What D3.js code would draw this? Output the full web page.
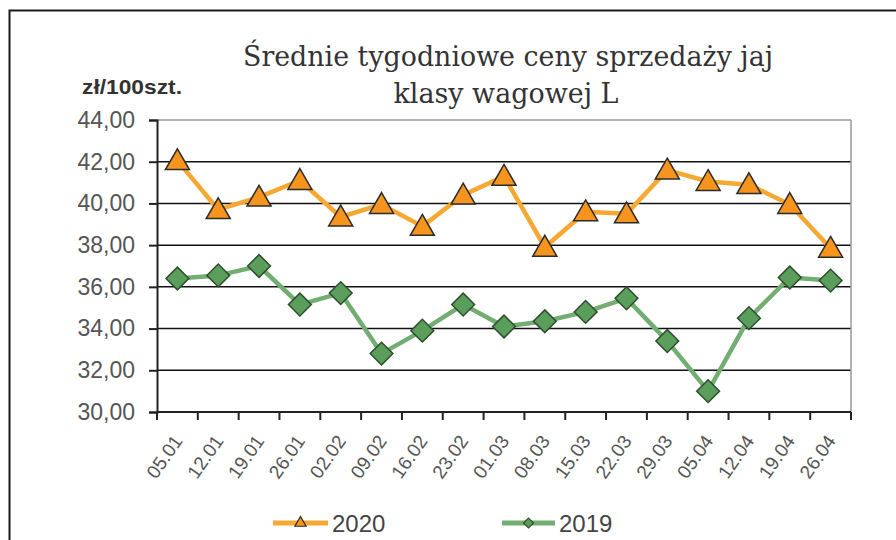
<!DOCTYPE html>
<html>
<head>
<meta charset="utf-8">
<script src="https://cdn.jsdelivr.net/npm/d3@7"></script>
<style>
  body { margin: 0; background: #fff; }
  svg { display: block; }
</style>
</head>
<body>
<div id="chartArea"></div>
<script>
// weekly egg prices, class L
var weeks = ['05.01','12.01','19.01','26.01','02.02','09.02','16.02','23.02','01.03',
             '08.03','15.03','22.03','29.03','05.04','12.04','19.04','26.04'];
var prices2020 = [42.05, 39.7, 40.3, 41.1, 39.35, 39.95, 38.9, 40.4, 41.3,
                  37.9, 39.6, 39.5, 41.6, 41.05, 40.9, 39.95, 37.85];
var prices2019 = [36.4, 36.55, 37.0, 35.15, 35.7, 32.8, 33.9, 35.15, 34.1,
                  34.35, 34.8, 35.45, 33.4, 31.0, 34.5, 36.45, 36.3];
var yTicks = [30, 32, 34, 36, 38, 40, 42, 44];
var seriesNames = ['2020', '2019'];

var w = 896, h = 540;

var svg = d3.select('#chartArea').append('svg')
    .attr('width', w)
    .attr('height', h);

// outer frame (cropped on right and bottom)
svg.append('path')
    .attr('d', 'M9.5,540 L9.5,10.5 L896,10.5')
    .attr('fill', 'none')
    .attr('stroke', '#1a1a1a')
    .attr('stroke-width', 2);

var xScale = d3.scaleBand()
    .domain(weeks)
    .range([157, 851]);

var yScale = d3.scaleLinear()
    .domain([30, 44])
    .range([412, 120]);

// title
var title = svg.append('g')
    .attr('font-family', '"DejaVu Serif", "Liberation Serif", serif')
    .attr('fill', '#333')
    .attr('text-anchor', 'middle');
title.append('text')
    .attr('x', 508).attr('y', 66)
    .attr('font-size', 27)
    .attr('textLength', 530)
    .attr('lengthAdjust', 'spacingAndGlyphs')
    .text('Średnie tygodniowe ceny sprzedaży jaj');
title.append('text')
    .attr('x', 506).attr('y', 103)
    .attr('font-size', 27)
    .attr('textLength', 225)
    .attr('lengthAdjust', 'spacingAndGlyphs')
    .text('klasy wagowej L');

// unit label
svg.append('text')
    .attr('x', 82).attr('y', 94)
    .attr('font-family', '"Liberation Sans", Arial, sans-serif')
    .attr('font-weight', 'bold')
    .attr('font-size', 21)
    .attr('textLength', 100)
    .attr('lengthAdjust', 'spacingAndGlyphs')
    .attr('fill', '#333')
    .text('zł/100szt.');

// gridlines
svg.append('g')
    .selectAll('line')
    .data(yTicks.slice(1))
    .enter()
    .append('line')
    .attr('x1', 157).attr('x2', 851)
    .attr('y1', function (d) { return yScale(d); })
    .attr('y2', function (d) { return yScale(d); })
    .attr('stroke', function (d) { return d === 44 ? '#999' : '#111'; })
    .attr('stroke-width', 1.5);

// right edge of plot
svg.append('line')
    .attr('x1', 851).attr('x2', 851)
    .attr('y1', 120).attr('y2', 412)
    .attr('stroke', '#999')
    .attr('stroke-width', 1.5);

// y axis
var yAxis = svg.append('g')
    .attr('transform', 'translate(157,0)')
    .call(d3.axisLeft(yScale)
        .tickValues(yTicks)
        .tickSize(8)
        .tickPadding(14)
        .tickFormat(function (d) { return d.toFixed(2).replace('.', ','); }));
yAxis.select('.domain').attr('stroke', '#222').attr('stroke-width', 2);
yAxis.selectAll('.tick line').attr('stroke', '#222').attr('stroke-width', 2);
yAxis.selectAll('.tick text')
    .attr('font-family', '"Liberation Sans", Arial, sans-serif')
    .attr('font-size', 23)
    .attr('fill', '#555');

// x axis line and ticks at band edges
var edges = weeks.map(function (d) { return xScale(d); }).concat([xScale.range()[1]]);
svg.append('line')
    .attr('x1', 157).attr('x2', 851)
    .attr('y1', 412).attr('y2', 412)
    .attr('stroke', '#222')
    .attr('stroke-width', 2);
svg.append('g')
    .selectAll('line')
    .data(edges)
    .enter()
    .append('line')
    .attr('x1', function (d) { return d; })
    .attr('x2', function (d) { return d; })
    .attr('y1', 412).attr('y2', 420)
    .attr('stroke', '#222')
    .attr('stroke-width', 2);

// x labels
svg.append('g')
    .selectAll('text')
    .data(weeks)
    .enter()
    .append('text')
    .attr('transform', function (d) {
        return 'translate(' + (xScale(d) + xScale.bandwidth() / 2 + 6) + ',441) rotate(-55)';
    })
    .attr('text-anchor', 'end')
    .attr('font-family', '"Liberation Sans", Arial, sans-serif')
    .attr('font-size', 19)
    .attr('fill', '#555')
    .text(function (d) { return d; });

var cx = function (d, i) { return xScale(weeks[i]) + xScale.bandwidth() / 2; };

var line = d3.line()
    .x(function (d, i) { return cx(d, i); })
    .y(function (d) { return yScale(d); });

var triangle = d3.symbol().type(d3.symbolTriangle).size(250);
var diamond = d3.symbol().type(d3.symbolSquare).size(260);

// 2020
svg.append('path')
    .datum(prices2020)
    .attr('d', line)
    .attr('fill', 'none')
    .attr('stroke', '#f6a832')
    .attr('stroke-width', 4.5)
    .attr('stroke-linejoin', 'round');
svg.append('g')
    .selectAll('path')
    .data(prices2020)
    .enter()
    .append('path')
    .attr('d', triangle)
    .attr('transform', function (d, i) { return 'translate(' + cx(d, i) + ',' + (yScale(d) + 2) + ')'; })
    .attr('fill', '#f7941d')
    .attr('stroke', '#2b2b2b')
    .attr('stroke-width', 1.5);

// 2019
svg.append('path')
    .datum(prices2019)
    .attr('d', line)
    .attr('fill', 'none')
    .attr('stroke', '#72ad72')
    .attr('stroke-width', 4.5)
    .attr('stroke-linejoin', 'round');
svg.append('g')
    .selectAll('path')
    .data(prices2019)
    .enter()
    .append('path')
    .attr('d', diamond)
    .attr('transform', function (d, i) { return 'translate(' + cx(d, i) + ',' + yScale(d) + ') rotate(45)'; })
    .attr('fill', '#5b9d5b')
    .attr('stroke', '#2e4e2e')
    .attr('stroke-width', 1.5);

// legend
var legend = [
    { name: seriesNames[0], x1: 273, x2: 328, line: '#f6a832', fill: '#f7941d', stroke: '#2b2b2b', sym: d3.symbol().type(d3.symbolTriangle).size(55) },
    { name: seriesNames[1], x1: 502, x2: 555, line: '#72ad72', fill: '#5b9d5b', stroke: '#2e4e2e', sym: d3.symbol().type(d3.symbolSquare).size(50) }
];
var lg = svg.append('g')
    .selectAll('g')
    .data(legend)
    .enter()
    .append('g');
lg.append('line')
    .attr('x1', function (d) { return d.x1; })
    .attr('x2', function (d) { return d.x2; })
    .attr('y1', 523).attr('y2', 523)
    .attr('stroke', function (d) { return d.line; })
    .attr('stroke-width', 5);
lg.append('path')
    .attr('d', function (d) { return d.sym(); })
    .attr('transform', function (d, i) {
        return 'translate(' + ((d.x1 + d.x2) / 2) + ',523)' + (i === 1 ? ' rotate(45)' : '');
    })
    .attr('fill', function (d) { return d.fill; })
    .attr('stroke', function (d) { return d.stroke; })
    .attr('stroke-width', 1.2);
lg.append('text')
    .attr('x', function (d) { return d.x2 + 4; })
    .attr('y', 532)
    .attr('font-family', '"Liberation Sans", Arial, sans-serif')
    .attr('font-size', 24)
    .attr('fill', '#444')
    .text(function (d) { return d.name; });
</script>
</body>
</html>
